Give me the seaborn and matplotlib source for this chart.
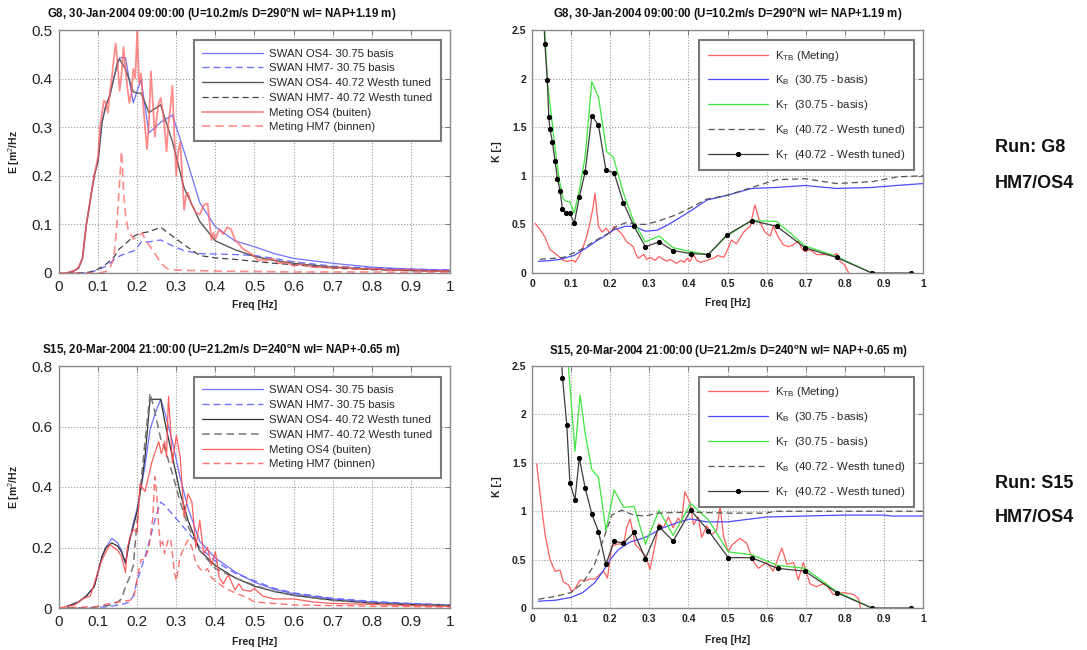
import numpy as np
import matplotlib
matplotlib.use("Agg")
import matplotlib.pyplot as plt
import seaborn as sns

# ---------------- data ----------------
x_ticks = [0, 0.1, 0.2, 0.3, 0.4, 0.5, 0.6, 0.7, 0.8, 0.9, 1.0]
x_tick_labels = ['0', '0.1', '0.2', '0.3', '0.4', '0.5', '0.6', '0.7', '0.8', '0.9', '1']
e_g8_ticks = [0, 0.1, 0.2, 0.3, 0.4, 0.5]
e_g8_tick_labels = ['0', '0.1', '0.2', '0.3', '0.4', '0.5']
e_s15_ticks = [0, 0.2, 0.4, 0.6, 0.8]
e_s15_tick_labels = ['0', '0.2', '0.4', '0.6', '0.8']
k_ticks = [0, 0.5, 1.0, 1.5, 2.0, 2.5]
k_tick_labels = ['0', '0.5', '1', '1.5', '2', '2.5']

titles = [
    'G8, 30-Jan-2004 09:00:00 (U=10.2m/s D=290$^\\mathbf{o}$N wl= NAP+1.19 m)',
    'G8, 30-Jan-2004 09:00:00 (U=10.2m/s D=290$^\\mathbf{o}$N wl= NAP+1.19 m)',
    'S15, 20-Mar-2004 21:00:00 (U=21.2m/s D=240$^\\mathbf{o}$N wl= NAP+-0.65 m)',
    'S15, 20-Mar-2004 21:00:00 (U=21.2m/s D=240$^\\mathbf{o}$N wl= NAP+-0.65 m)',
]
e_labels = ['SWAN OS4- 30.75 basis', 'SWAN HM7- 30.75 basis',
            'SWAN OS4- 40.72 Westh tuned', 'SWAN HM7- 40.72 Westh tuned',
            'Meting OS4 (buiten)', 'Meting HM7 (binnen)']
k_labels = [r'K$_{\mathrm{TB}}$ (Meting)', r'K$_{\mathrm{B}}$  (30.75 - basis)',
            r'K$_{\mathrm{T}}$  (30.75 - basis)', r'K$_{\mathrm{B}}$  (40.72 - Westh tuned)',
            r'K$_{\mathrm{T}}$  (40.72 - Westh tuned)']
run_labels = ['Run: G8', 'HM7/OS4', 'Run: S15', 'HM7/OS4']

# ---- G8 energy spectra ----
g8_swan_f = [0.02, 0.04, 0.05, 0.06, 0.07, 0.08, 0.09, 0.10, 0.11, 0.12, 0.13, 0.14, 0.15, 0.155,
             0.17, 0.19, 0.20, 0.21, 0.23, 0.26, 0.29, 0.32, 0.36, 0.40, 0.45, 0.50, 0.55, 0.60,
             0.70, 0.80, 0.90, 1.00]
g8_os4_basis = [0, 0.005, 0.01, 0.03, 0.10, 0.15, 0.20, 0.23, 0.31, 0.345, 0.365, 0.40, 0.43, 0.443,
                0.443, 0.35, 0.375, 0.397, 0.288, 0.31, 0.325, 0.25, 0.145, 0.095, 0.066, 0.054, 0.04,
                0.03, 0.02, 0.012, 0.008, 0.006]
g8_hm7_basis = [0, 0, 0, 0, 0.001, 0.002, 0.004, 0.007, 0.01, 0.014, 0.02, 0.027, 0.032, 0.035,
                0.04, 0.045, 0.052, 0.064, 0.064, 0.068, 0.056, 0.046, 0.04, 0.039, 0.038, 0.036,
                0.03, 0.023, 0.014, 0.01, 0.008, 0.006]
g8_os4_tuned = [0, 0.005, 0.01, 0.03, 0.10, 0.15, 0.20, 0.23, 0.31, 0.345, 0.365, 0.40, 0.435, 0.44,
                0.42, 0.373, 0.37, 0.37, 0.33, 0.346, 0.27, 0.175, 0.106, 0.066, 0.048, 0.034, 0.026,
                0.02, 0.012, 0.008, 0.005, 0.003]
g8_hm7_tuned = [0, 0, 0, 0, 0.001, 0.002, 0.005, 0.008, 0.013, 0.018, 0.025, 0.032, 0.045, 0.05,
                0.06, 0.075, 0.079, 0.082, 0.085, 0.094, 0.076, 0.058, 0.036, 0.031, 0.028, 0.024,
                0.02, 0.017, 0.01, 0.007, 0.005, 0.004]

g8_meas_os4_f = [0.0, 0.02, 0.04, 0.05, 0.06, 0.07, 0.08, 0.09, 0.10, 0.105, 0.11, 0.115, 0.12, 0.125,
                 0.13, 0.135, 0.14, 0.145, 0.15, 0.155, 0.16, 0.165, 0.17, 0.175, 0.18, 0.185, 0.19,
                 0.195, 0.20, 0.205, 0.21, 0.215, 0.22, 0.225, 0.23, 0.235, 0.24, 0.245, 0.25, 0.255,
                 0.26, 0.265, 0.27, 0.275, 0.28, 0.285, 0.29, 0.295, 0.30, 0.305, 0.31, 0.315, 0.32,
                 0.325, 0.33, 0.335, 0.34, 0.35, 0.36, 0.37, 0.38, 0.39, 0.395, 0.40, 0.41, 0.42, 0.43,
                 0.44, 0.45, 0.46, 0.47, 0.48, 0.49, 0.50, 0.51, 0.52, 0.53, 0.54, 0.55, 0.56, 0.58,
                 0.60, 0.62, 0.65, 0.68, 0.70, 0.73, 0.76, 0.80, 0.85, 0.90, 0.95, 1.00]
g8_meas_os4 = [0.0, 0.0, 0.005, 0.012, 0.03, 0.10, 0.15, 0.20, 0.24, 0.30, 0.33, 0.355, 0.35, 0.33,
               0.37, 0.40, 0.44, 0.472, 0.43, 0.375, 0.41, 0.465, 0.42, 0.38, 0.35, 0.37, 0.42,
               0.40, 0.497, 0.39, 0.41, 0.35, 0.30, 0.255, 0.31, 0.415, 0.35, 0.28, 0.32, 0.35,
               0.36, 0.335, 0.30, 0.25, 0.31, 0.34, 0.385, 0.28, 0.20, 0.25, 0.27, 0.20, 0.13,
               0.16, 0.165, 0.15, 0.14, 0.125, 0.12, 0.14, 0.143, 0.068, 0.083, 0.07, 0.09, 0.08, 0.094,
               0.09, 0.068, 0.06, 0.05, 0.045, 0.04, 0.035, 0.025, 0.028, 0.025, 0.03, 0.028, 0.02, 0.022,
               0.015, 0.018, 0.012, 0.012, 0.01, 0.012, 0.008, 0.009, 0.006, 0.007, 0.004, 0.004]
g8_meas_hm7_f = [0.0, 0.10, 0.12, 0.13, 0.14, 0.147, 0.152, 0.16, 0.165, 0.17, 0.177, 0.19, 0.20,
                 0.213, 0.22, 0.23, 0.245, 0.26, 0.27, 0.28, 0.30, 0.35, 0.40, 0.50, 0.60, 0.80, 1.00]
g8_meas_hm7 = [0.0, 0.0, 0.003, 0.01, 0.03, 0.088, 0.15, 0.25, 0.17, 0.12, 0.088, 0.07, 0.075,
               0.082, 0.07, 0.058, 0.04, 0.022, 0.013, 0.008, 0.006, 0.005, 0.004, 0.003, 0.002, 0.002, 0.001]

# ---- G8 transmission coefficients ----
g8_ktb_f = [0.008, 0.02, 0.033, 0.046, 0.063, 0.08, 0.09, 0.10, 0.106, 0.11, 0.12, 0.131, 0.14, 0.148,
            0.155, 0.161, 0.17, 0.179, 0.19, 0.20, 0.21, 0.22, 0.23, 0.242, 0.25, 0.259, 0.265, 0.272,
            0.285, 0.294, 0.302, 0.315, 0.325, 0.336, 0.345, 0.353, 0.362, 0.37, 0.38, 0.39, 0.397,
            0.404, 0.413, 0.421, 0.43, 0.44, 0.455, 0.464, 0.475, 0.49, 0.498, 0.51, 0.523, 0.535,
            0.545, 0.558, 0.57, 0.583, 0.596, 0.609, 0.617, 0.63, 0.643, 0.656, 0.668, 0.681, 0.69,
            0.698, 0.711, 0.728, 0.75, 0.77, 0.78, 0.788, 0.80, 0.81]
g8_ktb = [0.51, 0.45, 0.37, 0.24, 0.19, 0.13, 0.12, 0.13, 0.13, 0.11, 0.17, 0.27, 0.38, 0.51,
          0.65, 0.82, 0.48, 0.42, 0.46, 0.41, 0.48, 0.44, 0.40, 0.32, 0.30, 0.27, 0.20, 0.15,
          0.19, 0.14, 0.16, 0.13, 0.17, 0.14, 0.12, 0.14, 0.12, 0.10, 0.13, 0.11, 0.15,
          0.12, 0.19, 0.13, 0.11, 0.12, 0.14, 0.15, 0.18, 0.16, 0.22, 0.34, 0.30, 0.38,
          0.44, 0.48, 0.70, 0.52, 0.42, 0.38, 0.48, 0.37, 0.29, 0.27, 0.29, 0.33, 0.25,
          0.22, 0.24, 0.19, 0.19, 0.18, 0.20, 0.12, 0.08, 0.0]
g8_kb_basis_f = [0.016, 0.04, 0.072, 0.107, 0.14, 0.165, 0.19, 0.207, 0.238, 0.26, 0.29, 0.32, 0.345,
                 0.37, 0.41, 0.447, 0.50, 0.562, 0.626, 0.698, 0.779, 0.87, 0.93, 1.0]
g8_kb_basis = [0.12, 0.125, 0.14, 0.18, 0.26, 0.33, 0.39, 0.44, 0.48, 0.48, 0.43, 0.44, 0.49,
               0.55, 0.65, 0.75, 0.80, 0.87, 0.88, 0.90, 0.87, 0.88, 0.90, 0.92]
g8_kt_basis_f = [0.028, 0.035, 0.04, 0.05, 0.06, 0.07, 0.08, 0.087, 0.097, 0.108, 0.121, 0.136, 0.153,
                 0.17, 0.191, 0.208, 0.234, 0.261, 0.29, 0.325, 0.361, 0.406, 0.451, 0.498, 0.562,
                 0.626, 0.698, 0.779, 0.869]
g8_kt_basis = [2.9, 2.3, 1.95, 1.6, 1.25, 0.95, 0.76, 0.74, 0.73, 0.62, 0.85, 1.2, 1.97,
               1.81, 1.25, 1.19, 0.82, 0.52, 0.32, 0.38, 0.26, 0.22, 0.19, 0.38, 0.54,
               0.53, 0.28, 0.17, 0.0]
g8_kb_tuned_f = [0.02, 0.08, 0.125, 0.165, 0.20, 0.216, 0.242, 0.27, 0.29, 0.32, 0.37, 0.41, 0.447,
                 0.50, 0.562, 0.626, 0.698, 0.779, 0.87, 0.936, 1.0]
g8_kb_tuned = [0.14, 0.16, 0.24, 0.34, 0.42, 0.48, 0.52, 0.50, 0.50, 0.53, 0.60, 0.68, 0.76,
               0.80, 0.88, 0.96, 0.97, 0.92, 0.94, 0.99, 1.0]
g8_kt_tuned_f = [0.027, 0.033, 0.039, 0.043, 0.046, 0.052, 0.059, 0.065, 0.072, 0.078, 0.087, 0.097,
                 0.108, 0.121, 0.136, 0.153, 0.17, 0.189, 0.21, 0.234, 0.261, 0.29, 0.325, 0.361,
                 0.406, 0.451, 0.498, 0.562, 0.626, 0.698, 0.779, 0.869, 0.969]
g8_kt_tuned = [2.9, 2.36, 1.99, 1.6, 1.48, 1.35, 1.15, 0.97, 0.84, 0.655, 0.62, 0.62,
               0.51, 0.78, 1.04, 1.62, 1.52, 1.06, 1.03, 0.72, 0.48, 0.27, 0.32, 0.23,
               0.20, 0.19, 0.39, 0.54, 0.48, 0.26, 0.16, 0.0, 0.0]

# ---- S15 energy spectra ----
s15_swan_f = [0.02, 0.05, 0.07, 0.09, 0.10, 0.11, 0.12, 0.135, 0.15, 0.16, 0.17, 0.18, 0.19, 0.20,
              0.21, 0.22, 0.233, 0.245, 0.26, 0.27, 0.29, 0.31, 0.33, 0.36, 0.40, 0.45, 0.50, 0.55,
              0.60, 0.70, 0.80, 0.90, 1.00]
s15_os4_basis = [0.005, 0.02, 0.04, 0.07, 0.12, 0.17, 0.20, 0.23, 0.215, 0.19, 0.145, 0.22, 0.28,
                 0.33, 0.40, 0.47, 0.59, 0.64, 0.69, 0.65, 0.55, 0.43, 0.33, 0.22, 0.165, 0.12,
                 0.085, 0.062, 0.047, 0.03, 0.02, 0.014, 0.01]
s15_hm7_basis = [0, 0, 0, 0.001, 0.002, 0.003, 0.004, 0.006, 0.01, 0.012, 0.015, 0.02, 0.04, 0.09,
                 0.13, 0.17, 0.23, 0.29, 0.35, 0.34, 0.31, 0.28, 0.25, 0.20, 0.155, 0.115, 0.09,
                 0.065, 0.05, 0.032, 0.022, 0.015, 0.01]
s15_os4_tuned = [0.005, 0.02, 0.04, 0.07, 0.12, 0.17, 0.20, 0.215, 0.205, 0.185, 0.15, 0.22, 0.27,
                 0.32, 0.40, 0.50, 0.69, 0.69, 0.69, 0.62, 0.50, 0.38, 0.29, 0.19, 0.14, 0.10,
                 0.072, 0.055, 0.042, 0.026, 0.016, 0.011, 0.008]
s15_hm7_tuned = [0, 0, 0, 0.002, 0.005, 0.007, 0.008, 0.01, 0.02, 0.03, 0.07, 0.10, 0.14, 0.29,
                 0.42, 0.55, 0.71, 0.65, 0.56, 0.53, 0.445, 0.35, 0.27, 0.19, 0.13, 0.10, 0.075,
                 0.055, 0.042, 0.025, 0.016, 0.011, 0.008]
s15_meas_os4_f = [0.0, 0.02, 0.04, 0.05, 0.06, 0.08, 0.10, 0.11, 0.13, 0.15, 0.16, 0.17, 0.175, 0.182,
                  0.19, 0.20, 0.207, 0.22, 0.237, 0.255, 0.262, 0.27, 0.275, 0.28, 0.285, 0.29, 0.30,
                  0.31, 0.32, 0.33, 0.34, 0.35, 0.36, 0.37, 0.38, 0.39, 0.40, 0.41, 0.42, 0.433, 0.45,
                  0.46, 0.47, 0.49, 0.50, 0.52, 0.55, 0.60, 0.65, 0.70, 0.80, 0.90, 1.00]
s15_meas_os4 = [0.0, 0.005, 0.01, 0.02, 0.03, 0.04, 0.12, 0.16, 0.21, 0.19, 0.17, 0.117, 0.2, 0.236,
                0.26, 0.25, 0.41, 0.385, 0.48, 0.55, 0.51, 0.55, 0.50, 0.70, 0.60, 0.48, 0.57,
                0.50, 0.30, 0.377, 0.35, 0.20, 0.29, 0.18, 0.20, 0.14, 0.186, 0.10, 0.08, 0.109, 0.06,
                0.08, 0.06, 0.055, 0.065, 0.04, 0.03, 0.03, 0.02, 0.015, 0.012, 0.008, 0.005]
s15_meas_hm7_f = [0.0, 0.10, 0.12, 0.15, 0.18, 0.19, 0.195, 0.20, 0.21, 0.22, 0.23, 0.24, 0.245, 0.25,
                  0.255, 0.26, 0.265, 0.27, 0.28, 0.286, 0.295, 0.30, 0.31, 0.32, 0.33, 0.34, 0.35,
                  0.36, 0.37, 0.38, 0.39, 0.40, 0.42, 0.45, 0.48, 0.50, 0.55, 0.60, 0.70, 0.80, 1.00]
s15_meas_hm7 = [0.0, 0.005, 0.012, 0.02, 0.025, 0.03, 0.06, 0.10, 0.16, 0.16, 0.20, 0.30, 0.434, 0.38,
                0.27, 0.20, 0.22, 0.18, 0.23, 0.225, 0.12, 0.09, 0.17, 0.20, 0.225, 0.20, 0.15,
                0.13, 0.12, 0.13, 0.10, 0.09, 0.07, 0.05, 0.035, 0.02, 0.015, 0.01, 0.008, 0.006, 0.003]

# ---- S15 transmission coefficients ----
s15_ktb_f = [0.012, 0.02, 0.033, 0.046, 0.059, 0.072, 0.08, 0.093, 0.101, 0.11, 0.123, 0.136, 0.148,
             0.161, 0.174, 0.183, 0.193, 0.204, 0.218, 0.234, 0.243, 0.251, 0.264, 0.277, 0.29,
             0.302, 0.315, 0.324, 0.336, 0.349, 0.361, 0.374, 0.382, 0.391, 0.404, 0.413, 0.425,
             0.434, 0.447, 0.459, 0.472, 0.481, 0.49, 0.502, 0.511, 0.532, 0.549, 0.566, 0.579,
             0.60, 0.617, 0.639, 0.652, 0.669, 0.681, 0.694, 0.711, 0.728, 0.75, 0.77, 0.796,
             0.822, 0.835, 0.84]
s15_ktb = [1.49, 1.2, 0.77, 0.5, 0.38, 0.39, 0.27, 0.24, 0.17, 0.2, 0.29, 0.28, 0.3,
           0.3, 0.35, 0.38, 0.31, 0.64, 0.66, 0.66, 0.84, 0.92, 0.66, 0.6, 0.54,
           0.4, 0.66, 0.87, 0.83, 0.94, 0.83, 0.93, 0.88, 1.2, 1.09, 0.86, 0.94,
           0.73, 0.85, 0.76, 0.8, 1.05, 0.74, 0.58, 0.65, 0.72, 0.67, 0.48, 0.41,
           0.47, 0.38, 0.62, 0.45, 0.47, 0.29, 0.47, 0.25, 0.22, 0.26, 0.14, 0.16,
           0.14, 0.1, 0.0]
s15_kb_basis_f = [0.016, 0.06, 0.10, 0.13, 0.16, 0.18, 0.20, 0.22, 0.25, 0.29, 0.336, 0.37, 0.404,
                  0.447, 0.50, 0.60, 0.70, 0.80, 0.90, 0.92, 1.0]
s15_kb_basis = [0.07, 0.08, 0.11, 0.16, 0.26, 0.37, 0.50, 0.60, 0.68, 0.73, 0.83, 0.88, 0.92,
                0.89, 0.89, 0.94, 0.95, 0.96, 0.96, 0.95, 0.95]
s15_kt_basis_f = [0.085, 0.093, 0.11, 0.123, 0.136, 0.153, 0.17, 0.189, 0.21, 0.234, 0.261, 0.29,
                  0.325, 0.361, 0.406, 0.451, 0.502, 0.562, 0.628, 0.698, 0.779, 0.869]
s15_kt_basis = [2.9, 2.5, 1.62, 2.2, 1.8, 1.43, 1.35, 0.8, 1.22, 1.04, 1.05, 0.66,
                1.01, 0.75, 1.08, 0.91, 0.58, 0.55, 0.44, 0.41, 0.17, 0.0]
s15_kb_tuned_f = [0.016, 0.06, 0.10, 0.13, 0.16, 0.18, 0.204, 0.229, 0.26, 0.29, 0.32, 0.40, 0.50,
                  0.60, 0.62, 0.70, 1.0]
s15_kb_tuned = [0.09, 0.12, 0.16, 0.26, 0.45, 0.68, 0.96, 1.01, 0.96, 0.95, 0.98, 0.99, 0.98,
                0.98, 1.0, 1.0, 1.0]
s15_kt_tuned_f = [0.072, 0.078, 0.089, 0.097, 0.11, 0.121, 0.136, 0.153, 0.17, 0.189, 0.21, 0.234,
                  0.261, 0.29, 0.325, 0.361, 0.406, 0.451, 0.502, 0.562, 0.628, 0.698, 0.779,
                  0.869, 0.969]
s15_kt_tuned = [2.8, 2.38, 1.89, 1.29, 1.12, 1.55, 1.24, 0.97, 0.79, 0.45, 0.69, 0.67,
                0.78, 0.51, 0.84, 0.69, 1.01, 0.8, 0.52, 0.52, 0.41, 0.38, 0.16,
                0.0, 0.0]

# ---------------- style ----------------
sns.set_style("white")
FONT = ['Liberation Sans', 'DejaVu Sans']
plt.rcParams['font.family'] = FONT
plt.rcParams['mathtext.fontset'] = 'custom'
plt.rcParams['mathtext.rm'] = 'Liberation Sans'
plt.rcParams['mathtext.it'] = 'Liberation Sans:italic'
plt.rcParams['mathtext.bf'] = 'Liberation Sans:bold'

BLUE = '#5a5aff'
RED = '#ff4d4d'
GREEN = '#3de63d'
DARK = '#3c3c3c'
GRAYD = '#555555'
DASH = (0, (5, 3))

W, H = 1087, 650
fig = plt.figure(figsize=(W / 100, H / 100), dpi=100)


def ax_at(x0, y_top, w, h):
    return fig.add_axes([x0 / W, 1 - (y_top + h) / H, w / W, h / H])


ax_tl = ax_at(59, 30, 391, 243)
ax_tr = ax_at(532, 30, 391, 243)
ax_bl = ax_at(59, 366, 391, 242)
ax_br = ax_at(532, 366, 391, 242)


def draw(ax, f, v, color, ls='-', lw=0.9, label=None, alpha=1.0, **kw):
    sns.lineplot(x=f, y=v, ax=ax, color=color, linestyle=ls, linewidth=lw, label=label,
                 estimator=None, sort=False, errorbar=None, alpha=alpha, **kw)


def style(ax, yticks, ylabels, ylim, big):
    ax.set_xlim(0, 1)
    ax.set_ylim(*ylim)
    if big:
        fs, fw = 11, 'normal'
    else:
        fs, fw = 7.5, 'bold'
    ax.set_xticks(x_ticks, labels=x_tick_labels, fontsize=fs, fontweight=fw, color='#222222')
    ax.set_yticks(yticks, labels=ylabels, fontsize=fs, fontweight=fw, color='#222222')
    ax.grid(True, linestyle=':', color='#9a9a9a', linewidth=0.8)
    ax.tick_params(direction='in', top=True, right=True, length=3.5, width=0.7, color='#777777',
                   pad=5 if big else 4)
    for sp in ax.spines.values():
        sp.set_color('#8a8a8a')
        sp.set_linewidth(1.0)
    ax.set_axisbelow(True)


def legend(ax, anchor, spacing):
    h, l = ax.get_legend_handles_labels()
    leg = ax.legend(h, l, loc='upper right', bbox_to_anchor=anchor, fontsize=8.2,
                    handlelength=5.3, handletextpad=0.6, borderpad=0.75, labelspacing=spacing,
                    fancybox=False, framealpha=1, edgecolor='#7a7a7a', borderaxespad=0)
    leg.get_frame().set_linewidth(1.5)


# ---- top-left: G8 energy ----
ax = ax_tl
draw(ax, g8_swan_f, g8_os4_basis, BLUE, '-', 0.9, e_labels[0], alpha=0.85)
draw(ax, g8_swan_f, g8_hm7_basis, BLUE, DASH, 1.0, e_labels[1], alpha=0.85)
draw(ax, g8_swan_f, g8_os4_tuned, '#5a5a5a', '-', 1.0, e_labels[2])
draw(ax, g8_swan_f, g8_hm7_tuned, '#444444', DASH, 0.9, e_labels[3])
draw(ax, g8_meas_os4_f, g8_meas_os4, '#ff5a5a', '-', 1.3, e_labels[4], alpha=0.7)
draw(ax, g8_meas_hm7_f, g8_meas_hm7, '#ff5a5a', DASH, 1.2, e_labels[5], alpha=0.7)
style(ax, e_g8_ticks, e_g8_tick_labels, (0, 0.5), True)
legend(ax, (0.977, 0.959), 0.42)

# ---- bottom-left: S15 energy ----
ax = ax_bl
draw(ax, s15_swan_f, s15_os4_basis, BLUE, '-', 0.9, e_labels[0], alpha=0.85)
draw(ax, s15_swan_f, s15_hm7_basis, BLUE, DASH, 1.0, e_labels[1], alpha=0.85)
draw(ax, s15_swan_f, s15_os4_tuned, '#333333', '-', 0.9, e_labels[2])
draw(ax, s15_swan_f, s15_hm7_tuned, '#777777', DASH, 1.1, e_labels[3])
draw(ax, s15_meas_os4_f, s15_meas_os4, RED, '-', 0.9, e_labels[4], alpha=0.9)
draw(ax, s15_meas_hm7_f, s15_meas_hm7, RED, DASH, 1.0, e_labels[5], alpha=0.8)
style(ax, e_s15_ticks, e_s15_tick_labels, (0, 0.8), True)
legend(ax, (0.977, 0.955), 0.42)

# ---- right panels: transmission ----
for ax, d in [(ax_tr, (g8_ktb_f, g8_ktb, g8_kb_basis_f, g8_kb_basis, g8_kt_basis_f, g8_kt_basis,
                        g8_kb_tuned_f, g8_kb_tuned, g8_kt_tuned_f, g8_kt_tuned)),
              (ax_br, (s15_ktb_f, s15_ktb, s15_kb_basis_f, s15_kb_basis, s15_kt_basis_f, s15_kt_basis,
                        s15_kb_tuned_f, s15_kb_tuned, s15_kt_tuned_f, s15_kt_tuned))]:
    draw(ax, d[0], d[1], RED, '-', 0.9, k_labels[0], alpha=0.9)
    draw(ax, d[2], d[3], '#4a4aff', '-', 0.9, k_labels[1])
    draw(ax, d[4], d[5], GREEN, '-', 0.9, k_labels[2])
    draw(ax, d[6], d[7], GRAYD, DASH, 0.9, k_labels[3])
    draw(ax, d[8], d[9], DARK, '-', 0.9, k_labels[4], marker='o', markersize=3.0,
         markerfacecolor='black', markeredgecolor='black')
    style(ax, k_ticks, k_tick_labels, (0, 2.5), False)
legend(ax_tr, (0.977, 0.959), 0.95)
legend(ax_br, (0.977, 0.955), 0.95)

# ---- titles and labels ----
title_pos = [(222, 15), (728, 15), (222, 351), (729, 352)]
for t, (px, py) in zip(titles, title_pos):
    fig.text(px / W, 1 - py / H, t, ha='center', va='center', fontsize=8.3, fontweight='bold',
             color='#111111')

for ax in (ax_tl, ax_bl):
    ax.set_ylabel('E [m$^2$/Hz', fontsize=7.5, fontweight='bold', color='#222222')
    ax.yaxis.set_label_coords(-0.095, 0.5)
for ax in (ax_tr, ax_br):
    ax.set_ylabel('K [-]', fontsize=7.5, fontweight='bold', color='#222222')
    ax.yaxis.set_label_coords(-0.077, 0.5)
for ax in (ax_tl, ax_tr, ax_bl, ax_br):
    ax.set_xlabel('Freq [Hz]', fontsize=7.5, fontweight='bold', color='#222222')
ax_tl.xaxis.set_label_coords(0.5, -0.112)
ax_tr.xaxis.set_label_coords(0.5, -0.103)
ax_bl.xaxis.set_label_coords(0.5, -0.12)
ax_br.xaxis.set_label_coords(0.5, -0.11)

run_y = [148, 183, 483, 517]
for t, py in zip(run_labels, run_y):
    fig.text(995 / W, 1 - py / H, t, ha='left', va='center', fontsize=13, fontweight='bold',
             color='#111111')

fig.savefig('out.png', dpi=100)
